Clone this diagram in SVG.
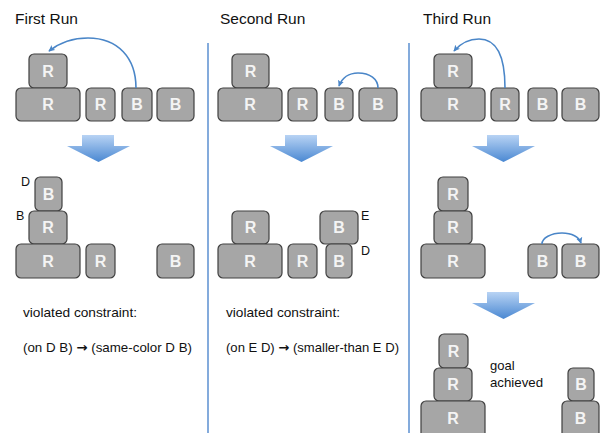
<svg xmlns="http://www.w3.org/2000/svg" width="603" height="433" viewBox="0 0 603 433">
<style>
.blk rect{fill:#a6a6a6;stroke:#404040;stroke-width:1.2}
.blk text{fill:#f4f4f4;font-family:"Liberation Sans",Arial,sans-serif;font-size:16px;font-weight:bold;text-anchor:middle}
.title{font-family:"Liberation Sans",Arial,sans-serif;font-size:15.5px;fill:#111}
.txt{font-family:"Liberation Sans",Arial,sans-serif;font-size:13px;fill:#111}
.ar{font-family:"DejaVu Sans",sans-serif;font-weight:bold}
.lbl{font-family:"Liberation Sans",Arial,sans-serif;font-size:12.5px;fill:#111}
.div{stroke:#5b8fd0;stroke-width:1.5}
.arc{fill:none;stroke:#4a86c8;stroke-width:1.6;marker-end:url(#ah)}
.big{fill:url(#g)}
</style>
<defs>
<linearGradient id="g" x1="0" y1="0" x2="0" y2="1">
<stop offset="0" stop-color="#b8d3f4"/>
<stop offset="1" stop-color="#4a88d2"/>
</linearGradient>
<marker id="ah" viewBox="0 0 10 10" refX="8" refY="5" markerWidth="7" markerHeight="7" orient="auto" markerUnits="userSpaceOnUse">
<path d="M0,0.5 L9,5 L0,9.5 L2,5 Z" fill="#4a86c8"/>
</marker>
</defs>
<rect width="603" height="433" fill="#fff"/>

<text class="title" x="15" y="24">First Run</text>
<text class="title" x="220" y="24">Second Run</text>
<text class="title" x="423" y="24">Third Run</text>

<g id="dividers">
<line class="div" x1="208" y1="43" x2="208" y2="433"/>
<line class="div" x1="409" y1="43" x2="409" y2="433"/>
</g>

<!-- First run top -->
<g id="r1-top-R-small" class="blk"><rect x="29" y="54" width="38" height="34" rx="5"/><text x="48" y="77">R</text></g>
<g id="r1-top-R-big" class="blk"><rect x="16" y="88" width="64" height="33" rx="5"/><text x="48" y="110">R</text></g>
<g id="r1-top-R-med" class="blk"><rect x="86" y="88" width="29" height="33" rx="5"/><text x="100.5" y="110">R</text></g>
<g id="r1-top-B1" class="blk"><rect x="122" y="88" width="30" height="33" rx="5"/><text x="137" y="110">B</text></g>
<g id="r1-top-B2" class="blk"><rect x="157" y="88" width="37" height="33" rx="5"/><text x="175.5" y="110">B</text></g>

<!-- Second run top -->
<g id="r2-top-R-small" class="blk"><rect x="232" y="54" width="37" height="34" rx="5"/><text x="250.5" y="77">R</text></g>
<g id="r2-top-R-big" class="blk"><rect x="218" y="88" width="64" height="33" rx="5"/><text x="250" y="110">R</text></g>
<g id="r2-top-R-med" class="blk"><rect x="288" y="88" width="29" height="33" rx="5"/><text x="302.5" y="110">R</text></g>
<g id="r2-top-B1" class="blk"><rect x="325" y="88" width="28" height="33" rx="5"/><text x="339" y="110">B</text></g>
<g id="r2-top-B2" class="blk"><rect x="359" y="88" width="38" height="33" rx="5"/><text x="378" y="110">B</text></g>

<!-- Third run top -->
<g id="r3-top-R-small" class="blk"><rect x="434" y="54" width="38" height="34" rx="5"/><text x="453" y="77">R</text></g>
<g id="r3-top-R-big" class="blk"><rect x="421" y="88" width="64" height="33" rx="5"/><text x="453" y="110">R</text></g>
<g id="r3-top-R-med" class="blk"><rect x="491" y="88" width="28" height="33" rx="5"/><text x="505" y="110">R</text></g>
<g id="r3-top-B1" class="blk"><rect x="528" y="88" width="29" height="33" rx="5"/><text x="542.5" y="110">B</text></g>
<g id="r3-top-B2" class="blk"><rect x="562" y="88" width="37" height="33" rx="5"/><text x="580.5" y="110">B</text></g>

<!-- First run middle -->
<g id="r1-mid-B-top" class="blk"><rect x="35" y="177" width="27" height="34" rx="5"/><text x="48.5" y="200">B</text></g>
<g id="r1-mid-R-mid" class="blk"><rect x="29" y="211" width="38" height="33" rx="5"/><text x="48" y="233">R</text></g>
<g id="r1-mid-R-big" class="blk"><rect x="16" y="244" width="64" height="34" rx="5"/><text x="48" y="267">R</text></g>
<g id="r1-mid-R-med" class="blk"><rect x="86" y="244" width="29" height="34" rx="5"/><text x="100.5" y="267">R</text></g>
<g id="r1-mid-B" class="blk"><rect x="157" y="244" width="37" height="34" rx="5"/><text x="175.5" y="267">B</text></g>
<text class="lbl" x="21" y="186">D</text>
<text class="lbl" x="16" y="220">B</text>
<text class="txt" x="23" y="317" textLength="114" lengthAdjust="spacingAndGlyphs">violated constraint:</text>
<text class="txt" x="23" y="352" textLength="169" lengthAdjust="spacingAndGlyphs">(on D B) <tspan class="ar">→</tspan> (same-color D B)</text>

<!-- Second run middle -->
<g id="r2-mid-R-top" class="blk"><rect x="232" y="211" width="37" height="33" rx="5"/><text x="250.5" y="233">R</text></g>
<g id="r2-mid-R-big" class="blk"><rect x="218" y="244" width="64" height="34" rx="5"/><text x="250" y="267">R</text></g>
<g id="r2-mid-R-med" class="blk"><rect x="288" y="244" width="29" height="34" rx="5"/><text x="302.5" y="267">R</text></g>
<g id="r2-mid-B-E" class="blk"><rect x="320" y="211" width="38" height="33" rx="5"/><text x="339" y="233">B</text></g>
<g id="r2-mid-B-D" class="blk"><rect x="326" y="244" width="26" height="34" rx="5"/><text x="339" y="267">B</text></g>
<text class="lbl" x="361" y="220">E</text>
<text class="lbl" x="361" y="255">D</text>
<text class="txt" x="226" y="317" textLength="114" lengthAdjust="spacingAndGlyphs">violated constraint:</text>
<text class="txt" x="226" y="352" textLength="173" lengthAdjust="spacingAndGlyphs">(on E D) <tspan class="ar">→</tspan> (smaller-than E D)</text>

<!-- Third run middle -->
<g id="r3-mid-R-top" class="blk"><rect x="438" y="177" width="30" height="34" rx="5"/><text x="453" y="200">R</text></g>
<g id="r3-mid-R-mid" class="blk"><rect x="434" y="211" width="38" height="33" rx="5"/><text x="453" y="233">R</text></g>
<g id="r3-mid-R-big" class="blk"><rect x="421" y="244" width="64" height="34" rx="5"/><text x="453" y="267">R</text></g>
<g id="r3-mid-B1" class="blk"><rect x="528" y="244" width="29" height="34" rx="5"/><text x="542.5" y="267">B</text></g>
<g id="r3-mid-B2" class="blk"><rect x="562" y="244" width="37" height="34" rx="5"/><text x="580.5" y="267">B</text></g>

<!-- Third run bottom -->
<g id="r3-bot-R-top" class="blk"><rect x="439" y="334" width="29" height="34" rx="5"/><text x="453.5" y="357">R</text></g>
<g id="r3-bot-R-mid" class="blk"><rect x="434" y="368" width="38" height="33" rx="5"/><text x="453" y="390">R</text></g>
<g id="r3-bot-R-big" class="blk"><rect x="421" y="401" width="64" height="40" rx="5"/><text x="453" y="424">R</text></g>
<g id="r3-bot-B-top" class="blk"><rect x="568" y="368" width="26" height="33" rx="5"/><text x="581" y="390">B</text></g>
<g id="r3-bot-B-bot" class="blk"><rect x="562" y="401" width="37" height="40" rx="5"/><text x="580.5" y="424">B</text></g>
<text class="txt" x="490" y="370">goal</text>
<text class="txt" x="490" y="387" textLength="53" lengthAdjust="spacingAndGlyphs">achieved</text>

<g id="connectors">
<path class="arc" d="M136,88 C136,58 118,38 88,38 C70,38 58,44 49,51"/>
<path class="arc" d="M378,88 C378,79 370,73 358,73 C349,73 342,78 339,86"/>
<path class="arc" d="M505,88 C505,60 498,39 479,39 C468,39 460,44 454,51"/>
<path class="arc" d="M542,244 C542,238 551,233 562,233 C572,233 579,237 581,243"/>
<polygon class="big" points="82,135 114,135 114,146 130,146 98.5,162 67,146 82,146"/>
<polygon class="big" points="285,135 317,135 317,146 333,146 301.5,162 270,146 285,146"/>
<polygon class="big" points="487,135 519,135 519,146 535,146 503.5,162 472,146 487,146"/>
<polygon class="big" points="487,292 519,292 519,303 535,303 503.5,319 472,303 487,303"/>
</g>
</svg>
